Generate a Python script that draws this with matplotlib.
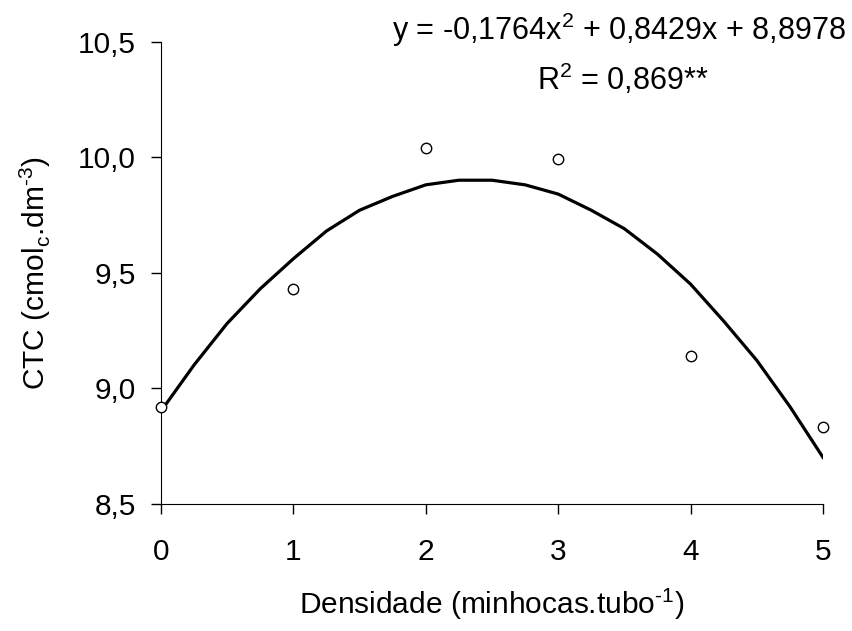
import matplotlib
matplotlib.use('Agg')
import matplotlib.pyplot as plt

plt.rcParams['font.family'] = ['Liberation Sans', 'DejaVu Sans']
plt.rcParams['mathtext.fontset'] = 'custom'
plt.rcParams['mathtext.rm'] = 'Liberation Sans'
plt.rcParams['axes.unicode_minus'] = False

# pontos observados
densidade = [0, 1, 2, 3, 4, 5]
ctc = [8.92, 9.43, 10.04, 9.99, 9.14, 8.83]

# curva ajustada
curva_x = [0, 0.25, 0.5, 0.75, 1.0, 1.25, 1.5, 1.75, 2.0, 2.25, 2.5,
           2.75, 3.0, 3.25, 3.5, 3.75, 4.0, 4.25, 4.5, 4.75, 5.0]
curva_y = [8.90, 9.10, 9.28, 9.43, 9.56, 9.68, 9.77, 9.83, 9.88, 9.90, 9.90,
           9.88, 9.84, 9.77, 9.69, 9.58, 9.45, 9.29, 9.12, 8.92, 8.70]

xticks = [0, 1, 2, 3, 4, 5]
yticks = [8.5, 9.0, 9.5, 10.0, 10.5]
ytick_labels = ['8,5', '9,0', '9,5', '10,0', '10,5']

fs = 21.5

fig = plt.figure(figsize=(8.53, 6.31), dpi=100)
ax = fig.add_axes([0.1887, 0.202, 0.7761, 0.732])

ax.plot(curva_x, curva_y, color='black', lw=2.3, zorder=2)
ax.plot(densidade, ctc, 'o', mfc='white', mec='black', ms=7.5, mew=1, zorder=3,
        clip_on=False)

ax.set_xlim(0, 5)
ax.set_ylim(8.5, 10.5)
ax.set_xticks(xticks)
ax.set_xticklabels([str(v) for v in xticks])
ax.set_yticks(yticks)
ax.set_yticklabels(ytick_labels)
ax.tick_params(direction='out', length=7, width=1, labelsize=fs)
ax.tick_params(axis='x', pad=18)
ax.tick_params(axis='y', pad=11)

for s in ['top', 'right']:
    ax.spines[s].set_visible(False)

ax.set_xlabel(r'Densidade (minhocas.tubo$^{\text{-1}}$)', fontsize=fs, labelpad=14)
ax.set_ylabel(r'CTC (cmol$_{\mathregular{c}}$.dm$^{\text{-3}}$)', fontsize=fs, labelpad=18)

fig.text(0.725, 0.952, r'y = -0,1764x$^{\mathregular{2}}$ + 0,8429x + 8,8978',
         fontsize=fs + 0.5, ha='center', va='center')
fig.text(0.730, 0.874, r'R$^{\mathregular{2}}$ = 0,869**',
         fontsize=fs + 0.5, ha='center', va='center')

fig.savefig('out.png', dpi=100)
